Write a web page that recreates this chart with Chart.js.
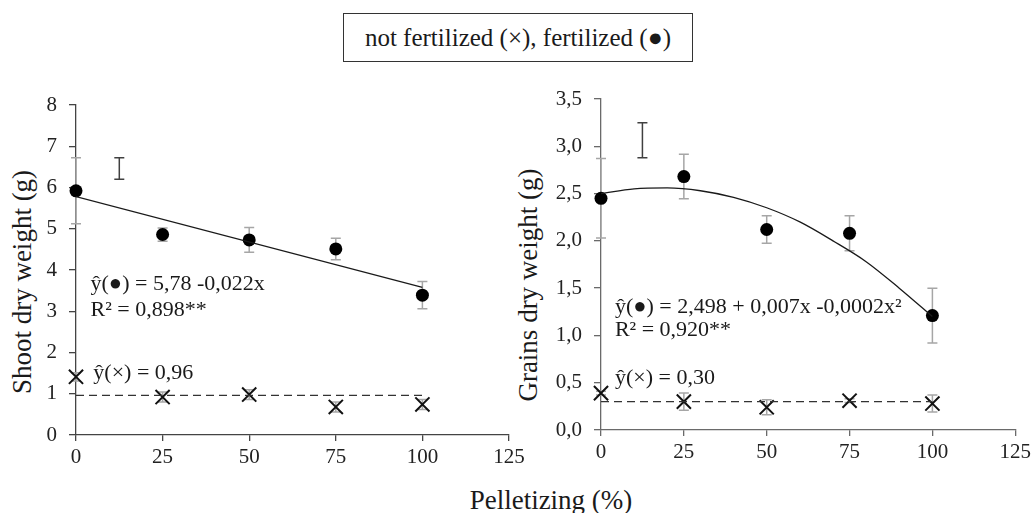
<!DOCTYPE html>
<html lang="en">
<head>
    <meta charset="UTF-8">
    <title>Shoot and grains dry weight vs pelletizing</title>
    <script src="https://cdn.jsdelivr.net/npm/chart.js"></script>
    <style>
        body {
            margin: 0;
            width: 1035px;
            height: 513px;
            background: #fff;
            font-family: "Liberation Serif", "Times New Roman", serif;
            color: #1a1a1a;
            position: relative;
            overflow: hidden;
        }

        canvas {
            position: absolute;
            top: 0;
        }

        #legendBox {
            position: absolute;
            left: 343px;
            top: 13px;
            width: 348px;
            height: 47px;
            border: 1px solid #333;
            font-size: 25px;
            line-height: 47px;
            text-align: center;
        }

        .ytitle {
            position: absolute;
            font-size: 27px;
            white-space: nowrap;
            transform: translate(-50%, -50%) rotate(-90deg);
        }

        #xtitle {
            position: absolute;
            left: 551px;
            top: 500px;
            font-size: 27px;
            white-space: nowrap;
            transform: translate(-50%, -50%);
        }
    </style>
</head>
<body>
    <div id="legendBox">not fertilized (×), fertilized (●)</div>
    <div class="ytitle" style="left:22px; top:282px;">Shoot dry weight (g)</div>
    <div class="ytitle" style="left:528px; top:285px;">Grains dry weight (g)</div>
    <div id="xtitle">Pelletizing (%)</div>

    <canvas id="shootChart" width="530" height="513" style="left:0"></canvas>
    <canvas id="grainChart" width="515" height="513" style="left:520px"></canvas>

    <script>
        // pelletizing levels (%)
        const doses = [0, 25, 50, 75, 100];

        // shoot dry weight (g)
        const shootFert = [5.92, 4.86, 4.73, 4.51, 3.39];
        const shootFertErr = [0.80, 0.16, 0.30, 0.26, 0.33];
        const shootNoFert = [1.41, 0.92, 0.98, 0.68, 0.74];
        const shootNoFertErr = [0.10, 0.12, 0.12, 0.12, 0.12];
        const shootFitX = [0, 100];
        const shootFitY = [5.78, 3.58];
        const shootMean = 0.96;
        const shootLsd = { x: 12.5, lo: 6.20, hi: 6.72 };

        // grains dry weight (g)
        const grainFert = [2.45, 2.68, 2.12, 2.08, 1.21];
        const grainFertErr = [0.42, 0.235, 0.145, 0.185, 0.29];
        const grainNoFert = [0.39, 0.30, 0.24, 0.31, 0.28];
        const grainNoFertErr = [0.02, 0.09, 0.08, 0.02, 0.09];
        const grainFitX = [0, 10, 20, 30, 40, 50, 60, 70, 80, 90, 100];
        const grainFitY = [2.50, 2.55, 2.56, 2.53, 2.46, 2.35, 2.20, 2.00, 1.78, 1.50, 1.20];
        const grainMean = 0.30;
        const grainLsd = { x: 12.5, lo: 2.88, hi: 3.25 };

        // tick labels
        const xTicks = ['0', '25', '50', '75', '100', '125'];
        const shootTicks = ['0', '1', '2', '3', '4', '5', '6', '7', '8'];
        const grainTicks = ['0,0', '0,5', '1,0', '1,5', '2,0', '2,5', '3,0', '3,5'];

        const serif = '"Liberation Serif", "Times New Roman", serif';
        Chart.defaults.font.family = serif;
        Chart.defaults.color = '#1a1a1a';

        const pts = (xs, ys) => xs.map((x, i) => ({ x: x, y: ys[i] }));

        // error bars (under the markers) and the equation texts
        const errorBars = {
            id: 'errorBars',
            beforeDatasetsDraw(chart) {
                const ctx = chart.ctx;
                const xs = chart.scales.x, ys = chart.scales.y;
                chart.data.datasets.forEach(ds => {
                    if (!ds.errors) return;
                    ctx.save();
                    ctx.strokeStyle = ds.errColor || '#a6a6a6';
                    ctx.lineWidth = 1.5;
                    ds.data.forEach((p, i) => {
                        const e = ds.errors[i];
                        const px = xs.getPixelForValue(p.x);
                        const top = ys.getPixelForValue(p.y + e);
                        const bot = ys.getPixelForValue(p.y - e);
                        ctx.beginPath();
                        ctx.moveTo(px, top); ctx.lineTo(px, bot);
                        ctx.moveTo(px - 5, top); ctx.lineTo(px + 5, top);
                        ctx.moveTo(px - 5, bot); ctx.lineTo(px + 5, bot);
                        ctx.stroke();
                    });
                    ctx.restore();
                });
            },
            afterDatasetsDraw(chart) {
                const notes = chart.options.plugins.notes || [];
                const ctx = chart.ctx;
                ctx.save();
                ctx.font = '22px ' + serif;
                ctx.fillStyle = '#1a1a1a';
                ctx.textAlign = 'left';
                ctx.textBaseline = 'middle';
                notes.forEach(n => {
                    ctx.fillText(n.text, chart.scales.x.getPixelForValue(n.x), chart.scales.y.getPixelForValue(n.y));
                });
                ctx.restore();
            }
        };

        function buildChart(id, cfg) {
            const lsd = cfg.lsd;
            return new Chart(document.getElementById(id), {
                type: 'scatter',
                data: {
                    datasets: [
                        {
                            data: pts(cfg.fitX, cfg.fitY),
                            showLine: true,
                            cubicInterpolationMode: 'monotone',
                            borderColor: '#1a1a1a',
                            borderWidth: 1.3,
                            pointRadius: 0
                        },
                        {
                            data: [{ x: 0, y: cfg.mean }, { x: 100, y: cfg.mean }],
                            showLine: true,
                            borderColor: '#333',
                            borderWidth: 1.3,
                            borderDash: [8, 5],
                            pointRadius: 0
                        },
                        {
                            data: [{ x: lsd.x, y: (lsd.lo + lsd.hi) / 2 }],
                            errors: [(lsd.hi - lsd.lo) / 2],
                            errColor: '#404040',
                            pointRadius: 0
                        },
                        {
                            data: pts(doses, cfg.noFert),
                            errors: cfg.noFertErr,
                            clip: false,
                            pointStyle: 'crossRot',
                            pointRadius: 10,
                            borderWidth: 2,
                            borderColor: '#111',
                            backgroundColor: '#111'
                        },
                        {
                            data: pts(doses, cfg.fert),
                            errors: cfg.fertErr,
                            clip: false,
                            pointStyle: 'circle',
                            pointRadius: 6.5,
                            borderWidth: 0,
                            backgroundColor: '#000'
                        }
                    ]
                },
                options: {
                    responsive: false,
                    animation: false,
                    layout: { padding: cfg.padding },
                    plugins: {
                        legend: { display: false },
                        tooltip: { enabled: false },
                        notes: cfg.notes
                    },
                    scales: {
                        x: {
                            type: 'linear',
                            min: 0, max: 125,
                            afterFit(s) { s.height = 40; },
                            afterBuildTicks(s) { s.ticks = xTicks.map(t => ({ value: +t })); },
                            ticks: {
                                padding: 4,
                                font: { size: 21, family: serif },
                                color: '#222',
                                callback: (v, i) => xTicks[i]
                            },
                            grid: { drawOnChartArea: false, tickLength: 6, tickColor: cfg.axisColor, lineWidth: 1.3 },
                            border: { color: cfg.axisColor, width: 1.3 }
                        },
                        y: {
                            min: 0, max: cfg.yMax,
                            afterFit(s) { s.width = cfg.yWidth; },
                            afterBuildTicks(s) { s.ticks = cfg.yTicks.map((t, i) => ({ value: i * cfg.yStep })); },
                            ticks: {
                                padding: 12,
                                font: { size: 21, family: serif },
                                color: '#222',
                                callback: (v, i) => cfg.yTicks[i]
                            },
                            grid: { drawOnChartArea: false, tickLength: 7, tickColor: cfg.axisColor, lineWidth: 1.3 },
                            border: { color: cfg.axisColor, width: 1.3 }
                        }
                    }
                },
                plugins: [errorBars]
            });
        }

        function drawAll() {
            buildChart('shootChart', {
                fert: shootFert, fertErr: shootFertErr,
                noFert: shootNoFert, noFertErr: shootNoFertErr,
                fitX: shootFitX, fitY: shootFitY, mean: shootMean, lsd: shootLsd,
                yMax: 8, yStep: 1, yTicks: shootTicks, yWidth: 76,
                axisColor: '#444',
                padding: { left: 0, top: 105, right: 21, bottom: 38 },
                notes: [
                    { x: 4.2, y: 3.66, text: 'ŷ(●) = 5,78 -0,022x' },
                    { x: 4.2, y: 3.03, text: 'R² = 0,898**' },
                    { x: 5.0, y: 1.50, text: 'ŷ(×) = 0,96' }
                ]
            });

            buildChart('grainChart', {
                fert: grainFert, fertErr: grainFertErr,
                noFert: grainNoFert, noFertErr: grainNoFertErr,
                fitX: grainFitX, fitY: grainFitY, mean: grainMean, lsd: grainLsd,
                yMax: 3.5, yStep: 0.5, yTicks: grainTicks, yWidth: 81,
                axisColor: '#6a6a6a',
                padding: { left: 0, top: 99, right: 19, bottom: 43 },
                notes: [
                    { x: 4.2, y: 1.30, text: 'ŷ(●) = 2,498 + 0,007x -0,0002x²' },
                    { x: 4.2, y: 1.06, text: 'R² = 0,920**' },
                    { x: 4.2, y: 0.55, text: 'ŷ(×) = 0,30' }
                ]
            });
        }

        // canvas text needs the serif face loaded first
        document.fonts.load('20px "Liberation Serif"', 'ŷ(●)×0,5').then(drawAll, drawAll);
    </script>
</body>
</html>
